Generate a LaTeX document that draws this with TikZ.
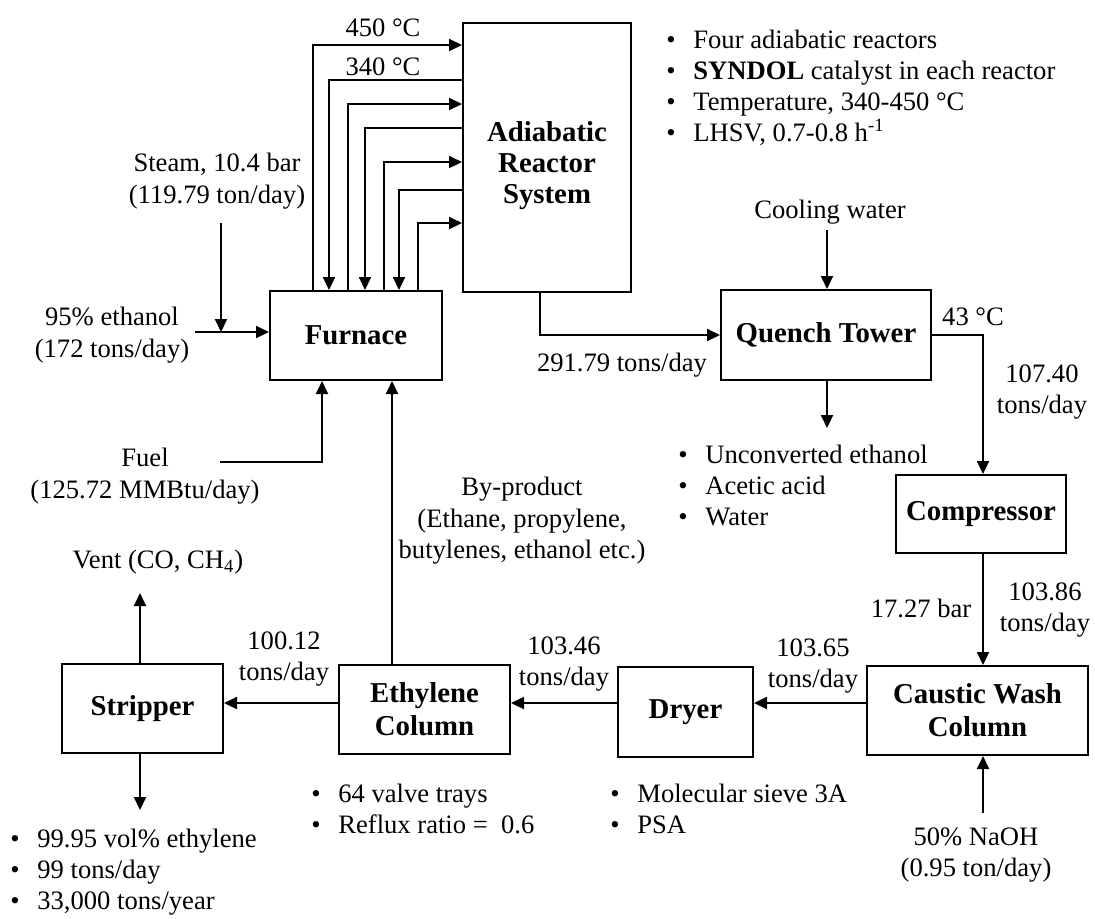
\documentclass[tikz,border=0pt]{standalone}
\usepackage{fontspec}
\setmainfont{Liberation Serif}
\usetikzlibrary{arrows.meta, positioning, calc}

\newcommand{\itm}[1]{\makebox[13.5pt][l]{\textbullet}#1}

\begin{document}
\begin{tikzpicture}[x=0.5pt, y=-0.5pt,
    unit/.style={draw, line width=1pt, font=\fontsize{14.4}{16.5}\selectfont\bfseries, align=center, inner sep=0pt},
    flow/.style={line width=1pt, -{Triangle[length=6.5pt, width=6pt]}},
    lbl/.style={align=center, inner sep=0pt, font=\fontsize{13.3}{15.8}\selectfont},
    notes/.style={align=left, anchor=west, inner sep=0pt, font=\fontsize{13.3}{15.5}\selectfont}]
  \useasboundingbox (0,0) rectangle (1095,918);

  % process units
  \node[unit, minimum width=86pt, minimum height=44.5pt] (furnace) at (356,335.5) {Furnace};
  \node[unit, minimum width=84pt, minimum height=134.5pt] (reactor) at (547,157.5) {};
  \node[unit, draw=none, font=\fontsize{14.4}{15.5}\selectfont\bfseries] (reactortxt) at (547,166) {Adiabatic\\Reactor\\System};
  \node[unit, minimum width=105pt, minimum height=45pt] (quench) at (826,335) {Quench Tower};
  \node[unit, minimum width=85pt, minimum height=39pt] (compressor) at (981,514) {Compressor};
  \node[unit, minimum width=110.5pt, minimum height=44.5pt] (caustic) at (977.5,710.5) {Caustic Wash\\Column};
  \node[unit, minimum width=67.5pt, minimum height=45pt] (dryer) at (685.5,712) {Dryer};
  \node[unit, minimum width=85.5pt, minimum height=44.5pt] (ethylene) at (424.5,709.5) {Ethylene\\Column};
  \node[unit, minimum width=80.5pt, minimum height=44.5pt] (stripper) at (142.5,708.5) {Stripper};

  % free ends of the streams
  \coordinate (etoh) at (195,332);
  \coordinate (steam) at (221,223);
  \coordinate (fuel) at (220,462);
  \coordinate (cw) at (827,230);
  \coordinate (waste) at (827,428);
  \coordinate (vent) at (140,593);
  \coordinate (product) at (140,810);
  \coordinate (naoh) at (983,813);

  % feed side
  \draw[flow] (etoh) -- (furnace.west |- etoh);
  \draw[flow] (steam) -- (steam |- etoh);
  \draw[flow] (fuel) -| (furnace.south -| 322,0);
  \draw[flow] (ethylene.north -| 392,0) -- (furnace.south -| 392,0);

  % furnace <-> reactor passes
  \foreach \xa/\ya in {313/45, 348/104, 384/162, 418/223}
    \draw[flow] (furnace.north -| \xa,0) |- (reactor.west |- 0,\ya);
  \foreach \xa/\ya in {329/80, 365/128, 399/190}
    \draw[flow] (reactor.west |- 0,\ya) -| (furnace.north -| \xa,0);

  % main train
  \draw[flow] (reactor.south -| 540,0) |- (quench.west);
  \draw[flow] (cw) -- (cw |- quench.north);
  \draw[flow] (quench.south -| waste) -- (waste);
  \draw[flow] (quench.east) -| (compressor.north -| 983,0);
  \draw[flow] (compressor.south -| 983,0) -- (caustic.north -| 983,0);
  \draw[flow] (naoh) -- (naoh |- caustic.south);
  \draw[flow] (caustic.west |- 0,703) -- (dryer.east |- 0,703);
  \draw[flow] (dryer.west |- 0,703) -- (ethylene.east |- 0,703);
  \draw[flow] (ethylene.west |- 0,703) -- (stripper.east |- 0,703);
  \draw[flow] (stripper.north -| vent) -- (vent);
  \draw[flow] (stripper.south -| product) -- (product);

  % stream labels
  \node[lbl] (t450) at (383,28) {450 °C};
  \node[lbl] (t340) at (383,67) {340 °C};
  \node[lbl] (steamlbl) at (217,181) {Steam, 10.4 bar\\(119.79 ton/day)};
  \node[lbl] (etohlbl) at (112,335) {95\% ethanol\\(172 tons/day)};
  \node[lbl] (fuellbl) at (145,476) {Fuel\\(125.72 MMBtu/day)};
  \node[lbl] (bylbl) at (522,521) {By-product\\(Ethane, propylene,\\butylenes, ethanol etc.)};
  \node[lbl] (rxlbl) at (622,365) {291.79 tons/day};
  \node[lbl] (cwlbl) at (830,212) {Cooling water};
  \node[lbl] (t43) at (973,317) {43 °C};
  \node[lbl] (q1) at (1042,392) {107.40\\tons/day};
  \node[lbl] (plbl) at (921,608) {17.27 bar};
  \node[lbl] (q2) at (1045,610) {103.86\\tons/day};
  \node[lbl] (q3) at (813,666) {103.65\\tons/day};
  \node[lbl] (q4) at (564,664) {103.46\\tons/day};
  \node[lbl] (q5) at (284,659) {100.12\\tons/day};
  \node[lbl] (ventlbl) at (158,562) {Vent (CO, CH\textsubscript{4})};
  \node[lbl] (naohlbl) at (976,855) {50\% NaOH\\(0.95 ton/day)};

  % notes
  \node[notes] (rxnotes) at (666,88) {\itm{Four adiabatic reactors}\\\itm{\textbf{SYNDOL} catalyst in each reactor}\\\itm{Temperature, 340-450 °C}\\\itm{LHSV, 0.7-0.8 h\textsuperscript{-1}}};
  \node[notes] (qnotes) at (678,485) {\itm{Unconverted ethanol}\\\itm{Acetic acid}\\\itm{Water}};
  \node[notes] (enotes) at (311,809) {\itm{64 valve trays}\\\itm{Reflux ratio = ~0.6}};
  \node[notes] (dnotes) at (610,809) {\itm{Molecular sieve 3A}\\\itm{PSA}};
  \node[notes] (pnotes) at (10,872) {\itm{99.95 vol\% ethylene}\\\itm{99 tons/day}\\\itm{33,000 tons/year}};
\end{tikzpicture}
\end{document}
